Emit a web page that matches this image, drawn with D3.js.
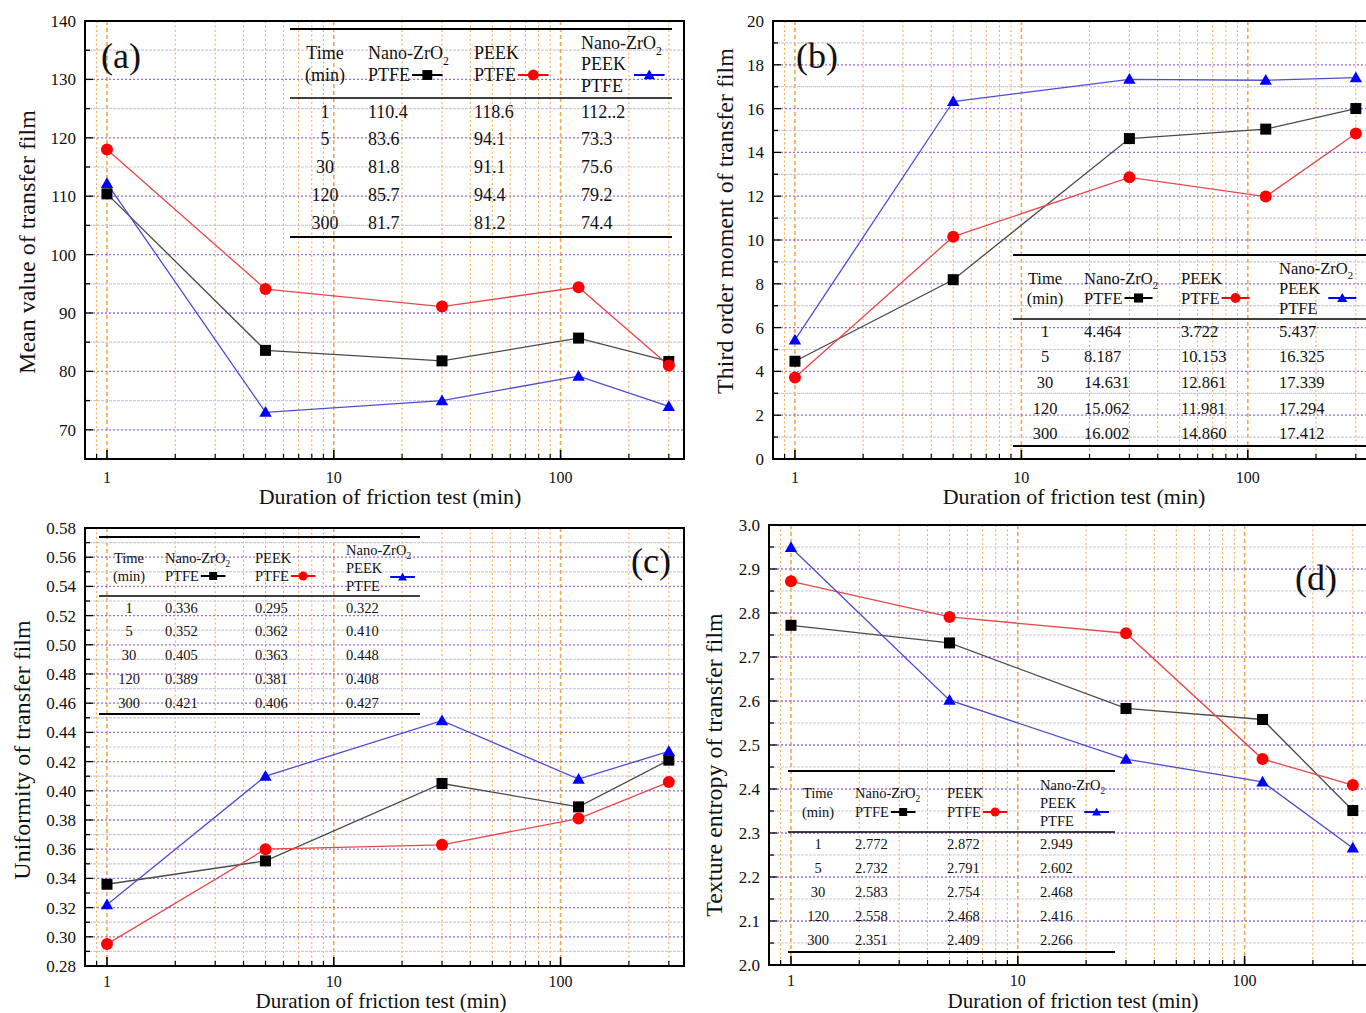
<!DOCTYPE html>
<html><head><meta charset="utf-8">
<script src="https://cdn.jsdelivr.net/npm/d3@7"></script>
<style>body{margin:0;background:#fff}svg{display:block}text{font-family:"Liberation Serif","Times New Roman",serif;fill:#111}</style>
</head><body><svg id="c" width="1366" height="1013"></svg>
<script>
const times = [1, 5, 30, 120, 300];
const seriesNames = [["Nano-ZrO2","PTFE"],["PEEK","PTFE"],["Nano-ZrO2","PEEK","PTFE"]];

// plotted values
const aBlack = [110.4, 83.6, 81.8, 85.7, 81.7];
const aRed   = [118.0, 94.1, 91.1, 94.4, 81.0];
const aBlue  = [112.2, 73.0, 75.0, 79.2, 74.0];
const bBlack = [4.464, 8.187, 14.631, 15.062, 16.002];
const bRed   = [3.722, 10.153, 12.861, 11.981, 14.860];
const bBlue  = [5.437, 16.325, 17.339, 17.294, 17.412];
const cBlack = [0.336, 0.352, 0.405, 0.389, 0.421];
const cRed   = [0.295, 0.360, 0.363, 0.381, 0.406];
const cBlue  = [0.322, 0.410, 0.448, 0.408, 0.427];
const dBlack = [2.772, 2.732, 2.583, 2.558, 2.351];
const dRed   = [2.872, 2.791, 2.754, 2.468, 2.409];
const dBlue  = [2.949, 2.602, 2.468, 2.416, 2.266];

// table texts
const aTable = [["110.4","118.6","112..2"],["83.6","94.1","73.3"],["81.8","91.1","75.6"],["85.7","94.4","79.2"],["81.7","81.2","74.4"]];
const bTable = [["4.464","3.722","5.437"],["8.187","10.153","16.325"],["14.631","12.861","17.339"],["15.062","11.981","17.294"],["16.002","14.860","17.412"]];
const cTable = [["0.336","0.295","0.322"],["0.352","0.362","0.410"],["0.405","0.363","0.448"],["0.389","0.381","0.408"],["0.421","0.406","0.427"]];
const dTable = [["2.772","2.872","2.949"],["2.732","2.791","2.602"],["2.583","2.754","2.468"],["2.558","2.468","2.416"],["2.351","2.409","2.266"]];

const xDomain = [0.8, 350];
const xTickLabels = [1, 10, 100];

const svg = d3.select("#c");
const COL = {black:"#000", red:"#ff0000", blue:"#0000ff"};
const LINE = {black:"#4a4a4a", red:"#e8474a", blue:"#4d4dd0"};

function marker(g, type, x, y, s) {
  if (type === "black") g.append("rect").attr("x", x - s/2).attr("y", y - s/2).attr("width", s).attr("height", s).attr("fill", COL.black);
  else if (type === "red") g.append("circle").attr("cx", x).attr("cy", y).attr("r", s/2 + 0.5).attr("fill", COL.red);
  else g.append("path").attr("d", d3.symbol(d3.symbolTriangle, s*s*0.55)()).attr("transform", `translate(${x},${y + 1})`).attr("fill", COL.blue);
}

function panel(p) {
  const g = svg.append("g");
  const x = d3.scaleLog().domain(xDomain).range([p.left, p.right]);
  const y = d3.scaleLinear().domain(p.ydom).range([p.bottom, p.top]);
  const clipId = "clip" + p.id;
  svg.append("clipPath").attr("id", clipId).append("rect").attr("x", p.left).attr("y", p.top).attr("width", p.right - p.left).attr("height", p.bottom - p.top);
  const gg = g.append("g").attr("clip-path", `url(#${clipId})`);
  // vertical grid
  const minor = [];
  for (let dec = 0.1; dec <= 100; dec *= 10) for (let k = 1; k <= 9; k++) { const v = +(k*dec).toFixed(6); if (v > xDomain[0] && v < xDomain[1]) minor.push(v); }
  minor.forEach(v => {
    const isDec = xTickLabels.includes(v);
    gg.append("line").attr("x1", x(v)).attr("x2", x(v)).attr("y1", p.top).attr("y2", p.bottom)
      .attr("stroke", "#f3a848").attr("stroke-width", isDec ? 1.6 : 1).attr("stroke-dasharray", isDec ? "4,3" : "2,2.5");
  });
  // horizontal grid
  const nMaj = Math.round((p.ydom[1] - p.ydom[0]) / p.minorStep);
  for (let i = 0; i <= nMaj; i++) {
    const v = p.ydom[0] + i * p.minorStep;
    const isMaj = Math.abs(((v - p.majStart) / p.majStep) - Math.round((v - p.majStart) / p.majStep)) < 1e-6;
    if (i === 0 || i === nMaj) continue;
    gg.append("line").attr("x1", p.left).attr("x2", p.right).attr("y1", y(v)).attr("y2", y(v))
      .attr("stroke", isMaj ? "#9d6fd8" : "#cfc6e6").attr("stroke-width", isMaj ? 1.3 : 1.2).attr("stroke-dasharray", isMaj ? "2,2" : "3,1");
  }
  // ticks
  for (let i = 0; i <= nMaj; i++) {
    const v = p.ydom[0] + i * p.minorStep;
    const isMaj = Math.abs(((v - p.majStart) / p.majStep) - Math.round((v - p.majStart) / p.majStep)) < 1e-6 && v >= p.majStart - 1e-9;
    g.append("line").attr("x1", p.left).attr("x2", p.left + (isMaj ? 8 : 5)).attr("y1", y(v)).attr("y2", y(v)).attr("stroke", "#000").attr("stroke-width", 1.3);
    if (isMaj) g.append("text").attr("x", p.left - 9).attr("y", y(v)).attr("dy", "0.35em").attr("text-anchor", "end").attr("font-size", 17).text(d3.format(p.fmt)(v));
  }
  minor.forEach(v => {
    const isDec = xTickLabels.includes(v);
    g.append("line").attr("x1", x(v)).attr("x2", x(v)).attr("y1", p.bottom).attr("y2", p.bottom - (isDec ? 9 : 5)).attr("stroke", "#000").attr("stroke-width", isDec ? 1.6 : 1.2);
  });
  xTickLabels.forEach(v => g.append("text").attr("x", x(v)).attr("y", p.bottom + p.xtl).attr("text-anchor", "middle").attr("font-size", 16).text(v));
  // frame
  g.append("rect").attr("x", p.left).attr("y", p.top).attr("width", p.right - p.left).attr("height", p.bottom - p.top).attr("fill", "none").attr("stroke", "#000").attr("stroke-width", 2);
  // titles
  g.append("text").attr("x", p.xtx).attr("y", p.bottom + p.xty).attr("text-anchor", "middle").attr("font-size", p.xfs).text(p.xtitle);
  g.append("text").attr("transform", `translate(${p.ytx},${p.yty}) rotate(-90)`).attr("text-anchor", "middle").attr("font-size", 24).text(p.ytitle);
  g.append("text").attr("x", p.lab[0]).attr("y", p.lab[1]).attr("text-anchor", "middle").attr("dy", "0.35em").attr("font-size", 36).text(p.label);

  // table
  const t = p.tab, fs = t.fs;
  const tg = g.append("g");
  [[t.lines[0], 2], [t.lines[1], 1.6], [t.lines[2], 2]].forEach(([yy, w]) => tg.append("line").attr("x1", t.x0).attr("x2", t.x1).attr("y1", yy).attr("y2", yy).attr("stroke", "#000").attr("stroke-width", w));
  const txt = (xx, yy, s, anchor) => {
    const el = tg.append("text").attr("x", xx).attr("y", yy).attr("dy", "0.35em").attr("font-size", fs).attr("text-anchor", anchor || "start");
    if (s === "Nano-ZrO2") { el.append("tspan").text("Nano-ZrO"); el.append("tspan").attr("font-size", fs*0.65).attr("dy", fs*0.3).text("2"); }
    else el.text(s);
    return el;
  };
  txt(t.tx, t.h2[0], "Time", "middle");
  txt(t.tx, t.h2[1], "(min)", "middle");
  const keys = ["black", "red", "blue"];
  seriesNames.forEach((names, j) => {
    const ys = names.length === 2 ? t.h2 : t.h3;
    let lastEl = null;
    names.forEach((nm, k) => { const el = txt(t.cols[j], ys[k], nm); if (k === 1) lastEl = el; });
    const w = lastEl.node().getComputedTextLength();
    const ly = names.length === 2 ? ys[1] : (ys[1] + ys[2]) / 2;
    const lx0 = t.cols[j] + w + (names.length === 3 ? 8 : 2);
    const lw = fs * 1.7;
    tg.append("line").attr("x1", lx0).attr("x2", lx0 + lw).attr("y1", ly).attr("y2", ly).attr("stroke", COL[keys[j]]).attr("stroke-width", 2);
    marker(tg, keys[j], lx0 + lw/2, ly, fs * 0.55);
  });
  p.table.forEach((row, i) => {
    txt(t.tx, t.rows[i], String(times[i]), "middle");
    row.forEach((v, j) => txt(t.cols[j], t.rows[i], v));
  });

  // series
  const lineGen = d3.line().x((d, i) => x(times[i])).y(d => y(d));
  const data = [["black", p.black], ["red", p.red], ["blue", p.blue]];
  data.forEach(([k, vals]) => g.append("path").attr("d", lineGen(vals)).attr("fill", "none").attr("stroke", LINE[k]).attr("stroke-width", 1.3));
  data.forEach(([k, vals]) => vals.forEach((v, i) => marker(g, k, x(times[i]), y(v), 11)));
}

panel({id:"a", left:85, right:684, top:21, bottom:459, ydom:[65,140], majStart:70, majStep:10, minorStep:5, fmt:"d",
  black:aBlack, red:aRed, blue:aBlue, table:aTable, xtl:24, xfs:22,
  xtitle:"Duration of friction test  (min)", xtx:390, xty:45, ytitle:"Mean value of transfer film", ytx:35, yty:242, label:"(a)", lab:[121,55],
  tab:{fs:18, x0:290, x1:672, lines:[29,98,237], tx:325, cols:[368,474,581], h2:[53,75], h3:[43,64,86], rows:[112,139,167,195,223]}});
panel({id:"b", left:773, right:1371, top:21, bottom:459, ydom:[0,20], majStart:0, majStep:2, minorStep:1, fmt:"d",
  black:bBlack, red:bRed, blue:bBlue, table:bTable, xtl:24, xfs:22,
  xtitle:"Duration of friction test (min)", xtx:1074, xty:45, ytitle:"Third order moment of transfer film", ytx:733, yty:221, label:"(b)", lab:[817,55],
  tab:{fs:16.5, x0:1013, x1:1366, lines:[255,319,446], tx:1045, cols:[1084,1181,1279], h2:[278,298], h3:[268,288,308], rows:[331,356,382,408,433]}});
panel({id:"c", left:85, right:684, top:528, bottom:966, ydom:[0.28,0.58], majStart:0.28, majStep:0.02, minorStep:0.01, fmt:".2f",
  black:cBlack, red:cRed, blue:cBlue, table:cTable, xtl:21, xfs:21,
  xtitle:"Duration of friction test  (min)", xtx:381, xty:42, ytitle:"Uniformity of transfer film", ytx:30, yty:750, label:"(c)", lab:[651,560],
  tab:{fs:14.5, x0:99, x1:420, lines:[537,596,714], tx:129, cols:[165,255,346], h2:[558,576], h3:[550,568,586], rows:[608,631,655,679,703]}});
panel({id:"d", left:769, right:1368, top:525, bottom:965, ydom:[2.0,3.0], majStart:2.0, majStep:0.1, minorStep:0.05, fmt:".1f",
  black:dBlack, red:dRed, blue:dBlue, table:dTable, xtl:21, xfs:21,
  xtitle:"Duration of friction test  (min)", xtx:1073, xty:43, ytitle:"Texture entropy of transfer film", ytx:722, yty:765, label:"(d)", lab:[1316,577],
  tab:{fs:14.5, x0:788, x1:1115, lines:[771,832,952], tx:818, cols:[855,947,1040], h2:[793,812], h3:[785,803,821], rows:[844,868,892,916,940]}});
</script></body></html>
